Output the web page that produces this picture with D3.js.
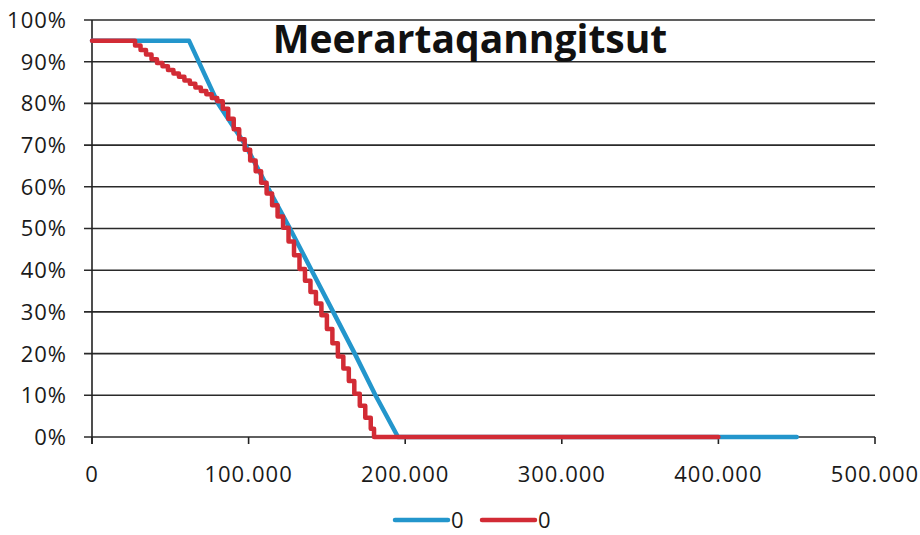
<!DOCTYPE html>
<html>
<head>
<meta charset="utf-8">
<script src="https://cdn.jsdelivr.net/npm/d3@7"></script>
<style>
  html, body { margin: 0; padding: 0; background: #fff; }
  svg { display: block; }
  text { font-family: "Open Sans", "DejaVu Sans", sans-serif; fill: #1a1a1a; }
</style>
</head>
<body>
<svg id="chart" width="920" height="535"></svg>
<script>
// ---- data ----
const title = "Meerartaqanngitsut";
const xTicks = [0, 100000, 200000, 300000, 400000, 500000];
const xTickLabels = ["0", "100.000", "200.000", "300.000", "400.000", "500.000"];
const yTicks = [0, 0.1, 0.2, 0.3, 0.4, 0.5, 0.6, 0.7, 0.8, 0.9, 1.0];
const yTickLabels = ["0%", "10%", "20%", "30%", "40%", "50%", "60%", "70%", "80%", "90%", "100%"];
const seriesNames = ["0", "0"];

// blue series (smooth line)
const blueX = [0, 62000, 80500, 98000, 112000, 126400, 140200, 154000, 167800, 181000, 195400, 450000];
const blueY = [0.95, 0.95, 0.80, 0.70, 0.60, 0.50, 0.40, 0.30, 0.20, 0.10, 0.00, 0.00];

// red series (staircase)
const redX = [0, 24000, 27500, 31000, 34500, 38000, 41500, 45000, 48500, 52000, 55500, 59000,
  62500, 66000, 69500, 73000, 76500, 80000, 83500, 87000, 90500, 94000, 97500, 101000,
  104500, 108000, 111500, 115000, 118500, 122000, 125500, 129000, 132500, 136000, 139500,
  143000, 146500, 150000, 153500, 157000, 160500, 164000, 167500, 171000, 174500, 178000,
  180100, 400000];
const redY = [0.95, 0.95, 0.939, 0.928, 0.917, 0.906, 0.897, 0.889, 0.880, 0.872, 0.864, 0.855,
  0.847, 0.838, 0.830, 0.822, 0.813, 0.805, 0.787, 0.763, 0.738, 0.714, 0.689, 0.663,
  0.637, 0.610, 0.584, 0.556, 0.529, 0.502, 0.469, 0.436, 0.403, 0.375, 0.348,
  0.320, 0.292, 0.259, 0.225, 0.193, 0.164, 0.134, 0.104, 0.075, 0.046, 0.020,
  0.000, 0.000];

(function () {
  const svg = d3.select("#chart");
  const pL = 92, pR = 875, pT = 20, pB = 437;
  const x = d3.scaleLinear().domain([0, 500000]).range([pL, pR]);
  const y = d3.scaleLinear().domain([0, 1]).range([pB, pT]);
  const ink = "#222";

  // gridlines
  svg.append("g").selectAll("line").data(yTicks).join("line")
    .attr("x1", pL - 8).attr("x2", pR)
    .attr("y1", d => y(d)).attr("y2", d => y(d))
    .attr("stroke", "#2a2a2a").attr("stroke-width", 1.6);

  // y axis line
  svg.append("line").attr("x1", pL).attr("x2", pL).attr("y1", pT).attr("y2", pB + 7)
    .attr("stroke", ink).attr("stroke-width", 1.6);

  // x axis ticks
  svg.append("g").selectAll("line").data(xTicks).join("line")
    .attr("x1", d => x(d)).attr("x2", d => x(d))
    .attr("y1", pB).attr("y2", pB + 7)
    .attr("stroke", ink).attr("stroke-width", 1.6);

  // y labels
  svg.append("g").selectAll("text").data(yTicks).join("text")
    .attr("x", 67).attr("y", d => y(d))
    .attr("dy", "0.36em")
    .attr("text-anchor", "end")
    .attr("font-size", 22).attr("letter-spacing", 1)
    .text((d, i) => yTickLabels[i]);

  // x labels
  svg.append("g").selectAll("text").data(xTicks).join("text")
    .attr("x", d => x(d)).attr("y", 474)
    .attr("dy", "0.36em")
    .attr("text-anchor", "middle")
    .attr("font-size", 22).attr("letter-spacing", 1)
    .text((d, i) => xTickLabels[i]);

  // series
  const blue = "#2396cc", red = "#d22b35";
  const blueData = blueX.map((v, i) => [v, blueY[i]]);
  const redData = redX.map((v, i) => [v, redY[i]]);

  svg.append("path").datum(blueData)
    .attr("d", d3.line().x(d => x(d[0])).y(d => y(d[1])))
    .attr("fill", "none").attr("stroke", blue).attr("stroke-width", 4.5)
    .attr("stroke-linejoin", "round").attr("stroke-linecap", "round");

  svg.append("path").datum(redData)
    .attr("d", d3.line().curve(d3.curveStepAfter).x(d => x(d[0])).y(d => y(d[1])))
    .attr("fill", "none").attr("stroke", red).attr("stroke-width", 4.5)
    .attr("stroke-linejoin", "round").attr("stroke-linecap", "round");

  // title
  svg.append("text").attr("x", 470).attr("y", 53)
    .attr("text-anchor", "middle")
    .attr("font-size", 39).attr("font-weight", 700)
    .style("fill", "#111")
    .text(title);

  // legend
  const legend = [
    { name: seriesNames[0], color: blue, x0: 395 },
    { name: seriesNames[1], color: red, x0: 482 }
  ];
  const lg = svg.append("g");
  legend.forEach(l => {
    lg.append("line").attr("x1", l.x0).attr("x2", l.x0 + 53).attr("y1", 520).attr("y2", 520)
      .attr("stroke", l.color).attr("stroke-width", 4.5).attr("stroke-linecap", "round");
    lg.append("text").attr("x", l.x0 + 56).attr("y", 520).attr("dy", "0.36em")
      .attr("font-size", 22).text(l.name);
  });
})();
</script>
</body>
</html>
